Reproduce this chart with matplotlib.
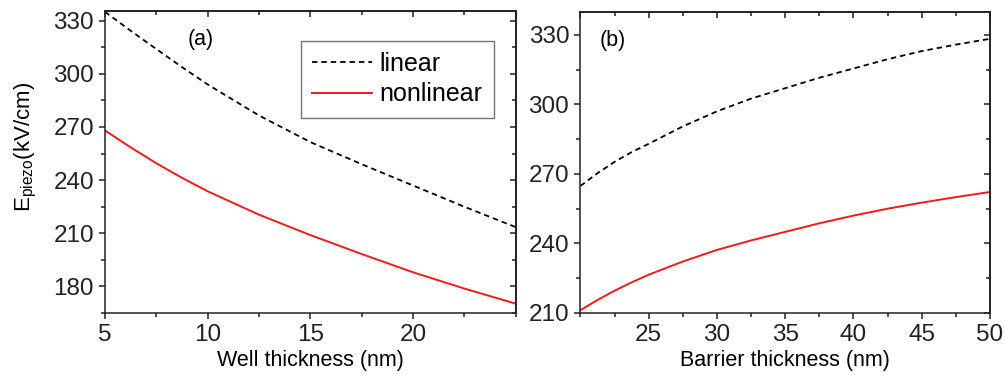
import numpy as np
import matplotlib.pyplot as plt
from matplotlib.ticker import MultipleLocator

plt.rcParams['font.family'] = ['Liberation Sans', 'DejaVu Sans']
plt.rcParams['mathtext.fontset'] = 'custom'
plt.rcParams['mathtext.rm'] = 'Liberation Sans'
plt.rcParams['mathtext.it'] = 'Liberation Sans'

# panel (a): vs well thickness
well = [5, 6.25, 7.5, 8.75, 10, 12.5, 15, 17.5, 20, 22.5, 25]
lin_a = [335, 324.3, 314, 303.8, 294, 276.5, 261.5, 249, 237, 225, 213.5]
nonlin_a = [268, 258.5, 249.5, 241.3, 233.7, 220.5, 209, 198.3, 188, 178.8, 170.3]

# panel (b): vs barrier thickness
barrier = [20, 21.25, 22.5, 23.75, 25, 27.5, 30, 32.5, 35, 37.5, 40, 42.5, 45, 47.5, 50]
lin_b = [264.8, 270.3, 275.2, 279.4, 283, 290.5, 297, 302.5, 307, 311.5, 315.5, 319.5, 323, 325.8, 328.3]
nonlin_b = [211.2, 215.6, 219.6, 223.2, 226.5, 232.2, 237.2, 241.3, 245, 248.7, 252, 255, 257.6, 260, 262.2]

fig = plt.figure(figsize=(10.05, 3.78), dpi=100)
ax1 = fig.add_axes([0.1045, 0.172, 0.4085, 0.799])
ax2 = fig.add_axes([0.5775, 0.172, 0.4075, 0.797])

dash = (0, (3.0, 2.2))
ink = '#222222'


def style(ax, xmaj, ymaj):
    ax.xaxis.set_major_locator(MultipleLocator(xmaj))
    ax.xaxis.set_minor_locator(MultipleLocator(xmaj / 2))
    ax.yaxis.set_major_locator(MultipleLocator(ymaj))
    ax.yaxis.set_minor_locator(MultipleLocator(ymaj / 2))
    ax.tick_params(which='both', direction='out', width=1.1, colors=ink, labelsize=17.5)
    ax.tick_params(which='major', length=4.5)
    ax.tick_params(which='minor', length=2.8)
    for s in ax.spines.values():
        s.set_linewidth(1.1)
        s.set_color(ink)
    sec = ax.secondary_xaxis('top')
    sec.xaxis.set_major_locator(MultipleLocator(xmaj))
    sec.xaxis.set_minor_locator(MultipleLocator(xmaj / 2))
    sec.tick_params(which='both', direction='in', width=1.1, labeltop=False, colors=ink)
    sec.tick_params(which='major', length=4.5)
    sec.tick_params(which='minor', length=2.8)
    sec.spines['top'].set_linewidth(1.1)
    sec = ax.secondary_yaxis('right')
    sec.yaxis.set_major_locator(MultipleLocator(ymaj))
    sec.yaxis.set_minor_locator(MultipleLocator(ymaj / 2))
    sec.tick_params(which='both', direction='in', width=1.1, labelright=False, colors=ink)
    sec.tick_params(which='major', length=4.5)
    sec.tick_params(which='minor', length=2.8)
    sec.spines['right'].set_linewidth(1.1)


# (a)
ax1.plot(well, lin_a, color='black', ls=dash, lw=1.3, label='linear')
ax1.plot(well, nonlin_a, color='#ee1c1c', lw=1.4, label='nonlinear')
ax1.set_xlim(5, 25)
ax1.set_ylim(165, 335.5)
style(ax1, 5, 30)
ax1.set_xticks([5, 10, 15, 20])
ax1.set_yticks([180, 210, 240, 270, 300, 330])
ax1.set_xlabel('Well thickness (nm)', fontsize=15.5, labelpad=3)
ax1.set_ylabel(r'E$_{\mathrm{piezo}}$(kV/cm)', fontsize=16)
ax1.yaxis.set_label_coords(-0.162, 0.55)
ax1.text(0.233, 0.905, '(a)', transform=ax1.transAxes, fontsize=15.5, ha='center', va='center')
leg = ax1.legend(loc='upper left', bbox_to_anchor=(0.4775, 0.9007), fontsize=18,
                 frameon=True, fancybox=False, edgecolor='#555555',
                 handlelength=2.4, handletextpad=0.3, borderpad=0.45,
                 labelspacing=0.25, borderaxespad=0)
leg.get_frame().set_linewidth(1.0)

# (b)
ax2.plot(barrier, lin_b, color='black', ls=dash, lw=1.3)
ax2.plot(barrier, nonlin_b, color='#ee1c1c', lw=1.4)
ax2.set_xlim(20, 50)
ax2.set_ylim(210, 340)
style(ax2, 5, 30)
ax2.set_xticks([25, 30, 35, 40, 45, 50])
ax2.set_yticks([210, 240, 270, 300, 330])
ax2.set_xlabel('Barrier thickness (nm)', fontsize=15.5, labelpad=3)
ax2.text(0.078, 0.905, '(b)', transform=ax2.transAxes, fontsize=15.5, ha='center', va='center')

fig.savefig('out.png', dpi=100)
